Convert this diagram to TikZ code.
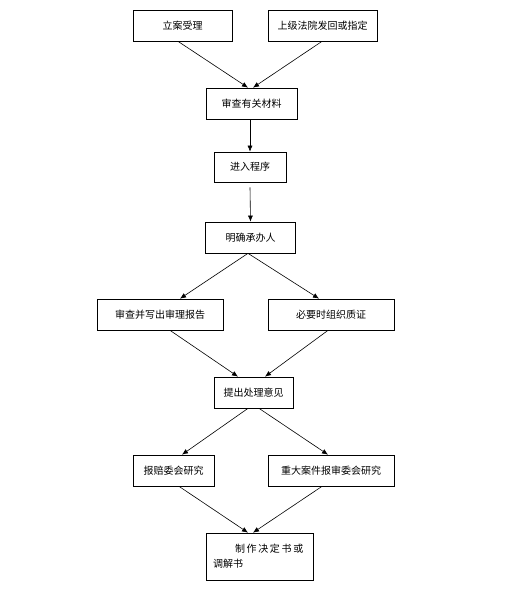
\documentclass[tikz,border=0pt]{standalone}
\usepackage{fontspec}
\setmainfont{Noto Sans CJK SC}
\usetikzlibrary{arrows.meta}

\begin{document}
\begin{tikzpicture}[x=1pt,y=-1pt,>={Latex[length=6pt,width=5pt]},
  every node/.style={font=\fontsize{10}{15}\selectfont,align=center},
  box/.style={draw,line width=0.7pt,inner sep=0pt,minimum height=31pt},
  flow/.style={->,line width=0.6pt}]
  \fill[white] (0,0) rectangle (514,604);
  \useasboundingbox (0,0) rectangle (514,604);
  \node[box,minimum width=99pt] (lian) at (182.5,25.5) {立案受理};
  \node[box,minimum width=109pt] (fahui) at (322.5,25.5) {上级法院发回或指定};
  \node[box,minimum width=91pt] (shencha) at (251.5,103.5) {审查有关材料};
  \node[box,minimum width=72pt,minimum height=30pt] (chengxu) at (250,167) {进入程序};
  \node[box,minimum width=90pt] (chengban) at (250.5,237.5) {明确承办人};
  \node[box,minimum width=126pt] (baogao) at (160,314.5) {审查并写出审理报告};
  \node[box,minimum width=126pt] (zhizheng) at (331,314.5) {必要时组织质证};
  \node[box,minimum width=79pt] (yijian) at (253.5,392.5) {提出处理意见};
  \node[box,minimum width=81pt] (peiwei) at (173.5,470.5) {报赔委会研究};
  \node[box,minimum width=126pt] (shenwei) at (331,470.5) {重大案件报审委会研究};
  \node[box,minimum width=107pt,minimum height=47pt,text width=93pt,inner xsep=7pt,align=left] (jueding) at (259.5,556.5)
    {\hspace*{22pt}制\,作\,决\,定\,书\,或\\调解书};
  \draw[flow] ([xshift=-4.5pt]lian.south) -- ([xshift=-3.5pt]shencha.north);
  \draw[flow] ([xshift=-0.5pt]fahui.south) -- ([xshift=1.5pt]shencha.north);
  \draw[flow] ([xshift=-1.5pt]shencha.south) -- (chengxu.north);
  \draw[flow] ([yshift=-5pt]chengxu.south) -- (chengban.north);
  \draw[flow] ([xshift=-2.5pt]chengban.south) -- ([xshift=20pt]baogao.north);
  \draw[flow] ([xshift=-2.5pt]chengban.south) -- ([xshift=-12pt]zhizheng.north);
  \draw[flow] ([xshift=10pt]baogao.south) -- ([xshift=-15.5pt]yijian.north);
  \draw[flow] ([xshift=-3pt]zhizheng.south) -- ([xshift=11.5pt]yijian.north);
  \draw[flow] ([xshift=-5.5pt]yijian.south) -- ([xshift=8.5pt]peiwei.north);
  \draw[flow] ([xshift=5.5pt]yijian.south) -- ([xshift=-3pt]shenwei.north);
  \draw[flow] ([xshift=5.5pt]peiwei.south) -- ([xshift=-11.5pt]jueding.north);
  \draw[flow] ([xshift=-9pt]shenwei.south) -- ([xshift=-6.5pt]jueding.north);
\end{tikzpicture}
\end{document}
